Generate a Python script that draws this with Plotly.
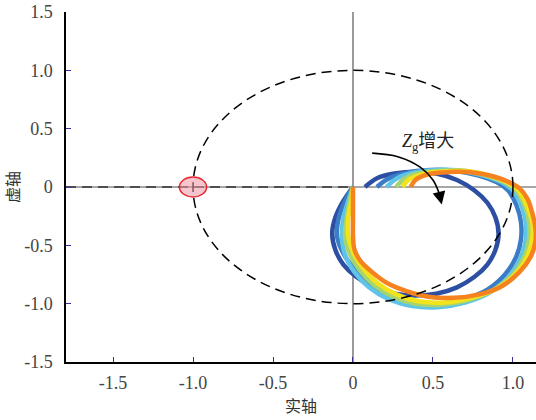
import plotly.graph_objects as go

# ---------------- data ----------------
x_tick_vals = [-1.5, -1.0, -0.5, 0, 0.5, 1.0]
x_tick_text = ["-1.5", "-1.0", "-0.5", "0", "0.5", "1.0"]
y_tick_vals = [-1.5, -1.0, -0.5, 0, 0.5, 1.0, 1.5]
y_tick_text = ["-1.5", "-1.0", "-0.5", "0", "0.5", "1.0", "1.5"]

curve_colors = ["#2d4fa3", "#3b7cc6", "#5ec4e8", "#a6d470", "#f2e41c", "#f5821f"]

c1_x = [0.075, 0.15, 0.26, 0.39, 0.52, 0.65, 0.76, 0.84, 0.89, 0.91, 0.89, 0.84, 0.76, 0.65, 0.52, 0.39, 0.26, 0.13, 0.02, -0.06, -0.11, -0.13, -0.11, -0.06, 0.0]
c1_y = [0.0, 0.075, 0.115, 0.13, 0.115, 0.06, -0.03, -0.135, -0.26, -0.40, -0.54, -0.665, -0.77, -0.86, -0.915, -0.93, -0.915, -0.86, -0.77, -0.665, -0.54, -0.40, -0.26, -0.12, 0.0]

c2_x = [0.15, 0.22, 0.33, 0.48, 0.63, 0.78, 0.90, 0.97, 1.02, 1.05, 1.05, 1.02, 0.95, 0.84, 0.70, 0.55, 0.40, 0.25, 0.12, 0.02, -0.06, -0.10, -0.09, -0.05, 0.0]
c2_y = [0.0, 0.07, 0.12, 0.145, 0.14, 0.10, 0.04, -0.03, -0.15, -0.30, -0.45, -0.60, -0.75, -0.88, -0.96, -1.00, -0.99, -0.94, -0.85, -0.72, -0.57, -0.42, -0.27, -0.12, 0.0]

c3_x = [0.21, 0.27, 0.37, 0.52, 0.67, 0.81, 0.93, 1.00, 1.05, 1.08, 1.08, 1.05, 0.98, 0.86, 0.70, 0.53, 0.37, 0.22, 0.10, 0.01, -0.05, -0.07, -0.06, -0.03, 0.0]
c3_y = [0.0, 0.07, 0.12, 0.145, 0.14, 0.10, 0.04, -0.03, -0.15, -0.30, -0.45, -0.60, -0.76, -0.90, -0.99, -1.03, -1.02, -0.96, -0.86, -0.73, -0.58, -0.42, -0.27, -0.12, 0.0]

c4_x = [0.27, 0.32, 0.42, 0.56, 0.70, 0.83, 0.95, 1.02, 1.07, 1.10, 1.10, 1.07, 1.00, 0.88, 0.72, 0.55, 0.39, 0.25, 0.13, 0.04, -0.02, -0.05, -0.04, -0.02, 0.0]
c4_y = [0.0, 0.07, 0.12, 0.14, 0.14, 0.10, 0.04, -0.03, -0.15, -0.30, -0.45, -0.60, -0.75, -0.88, -0.97, -1.01, -1.00, -0.94, -0.84, -0.71, -0.57, -0.42, -0.27, -0.12, 0.0]

c5_x = [0.31, 0.35, 0.45, 0.59, 0.72, 0.85, 0.96, 1.03, 1.08, 1.12, 1.12, 1.09, 1.02, 0.90, 0.74, 0.57, 0.41, 0.27, 0.15, 0.06, 0.00, -0.03, -0.03, -0.01, 0.0]
c5_y = [0.0, 0.065, 0.115, 0.135, 0.135, 0.10, 0.04, -0.02, -0.14, -0.30, -0.45, -0.59, -0.74, -0.87, -0.95, -0.99, -0.98, -0.92, -0.82, -0.69, -0.56, -0.42, -0.27, -0.12, 0.0]

c6_x = [0.36, 0.39, 0.46, 0.56, 0.66, 0.77, 0.88, 0.97, 1.04, 1.09, 1.12, 1.14, 1.14, 1.11, 1.04, 0.93, 0.79, 0.63, 0.47, 0.33, 0.21, 0.12, 0.05, 0.01, 0.0, 0.0, 0.0, 0.0]
c6_y = [0.0, 0.06, 0.105, 0.125, 0.13, 0.12, 0.09, 0.045, -0.01, -0.10, -0.22, -0.35, -0.47, -0.60, -0.73, -0.85, -0.92, -0.95, -0.94, -0.89, -0.82, -0.73, -0.64, -0.54, -0.42, -0.28, -0.14, 0.0]

curves_x = [c1_x, c2_x, c3_x, c4_x, c5_x, c6_x]
curves_y = [c1_y, c2_y, c3_y, c4_y, c5_y, c6_y]

arrow_x = [0.12, 0.28, 0.42, 0.50, 0.54]
arrow_y = [0.29, 0.26, 0.17, 0.06, -0.06]
arrow_tip = (0.555, -0.15)

unit_radius = 1.0
critical_point = (-1.0, 0.0)
critical_r = (0.085, 0.085)

x_range = [-1.794, 1.144]
y_range = [-1.5, 1.5]

SERIF = "Liberation Serif"
CJK = "Noto Sans CJK SC"

# ---------------- figure ----------------
fig = go.Figure()

fig.add_trace(go.Scatter(x=[x_range[0], x_range[1]], y=[0, 0], mode="lines",
                         line=dict(color="#8a8a8a", width=1.5), hoverinfo="skip", showlegend=False))
fig.add_trace(go.Scatter(x=[x_range[0], 0], y=[0, 0], mode="lines",
                         line=dict(color="#333333", width=1.5, dash="10px,6px"), hoverinfo="skip", showlegend=False))
fig.add_trace(go.Scatter(x=[0, 0], y=[y_range[0], y_range[1]], mode="lines",
                         line=dict(color="#7a7a7a", width=1.5), hoverinfo="skip", showlegend=False))

for cx, cy, col in zip(curves_x, curves_y, curve_colors):
    fig.add_trace(go.Scatter(x=cx, y=cy, mode="lines",
                             line=dict(color=col, width=4.5, shape="spline", smoothing=1.0),
                             showlegend=False))

fig.add_trace(go.Scatter(x=arrow_x, y=arrow_y, mode="lines",
                         line=dict(color="black", width=1.6, shape="spline"), showlegend=False))

fig.add_annotation(x=arrow_tip[0], y=arrow_tip[1], ax=arrow_x[-1], ay=arrow_y[-1],
                   xref="x", yref="y", axref="x", ayref="y", text="",
                   showarrow=True, arrowhead=2, arrowsize=1.6, arrowwidth=1.6, arrowcolor="black")

fig.add_annotation(x=0.47, y=0.385, xref="x", yref="y", showarrow=False,
                   text="<i>Z</i><sub>g</sub>增大",
                   font=dict(family="Liberation Serif, Noto Sans CJK SC", size=18, color="#222222"))

fig.add_shape(type="circle", xref="x", yref="y",
              x0=-unit_radius, x1=unit_radius, y0=-unit_radius, y1=unit_radius,
              line=dict(color="black", width=1.5, dash="10px,6px"))
fig.add_shape(type="circle", xref="x", yref="y",
              x0=critical_point[0] - critical_r[0], x1=critical_point[0] + critical_r[0],
              y0=critical_point[1] - critical_r[1], y1=critical_point[1] + critical_r[1],
              line=dict(color="#e8262d", width=1.5), fillcolor="rgba(240,150,165,0.55)")

tick_font = dict(family=SERIF, size=18, color="#444444")
fig.update_xaxes(range=x_range, tickvals=x_tick_vals, ticktext=x_tick_text,
                 showgrid=False, zeroline=False, showline=True, linecolor="black", linewidth=1.5,
                 ticks="inside", ticklen=5, tickcolor="#333399", tickwidth=1, tickfont=tick_font,
                 ticklabelstandoff=4,
                 title=dict(text="实轴", font=dict(family=CJK, size=16, color="#333333"), standoff=8))
fig.update_yaxes(range=y_range, tickvals=y_tick_vals, ticktext=y_tick_text,
                 showgrid=False, zeroline=False, showline=True, linecolor="black", linewidth=1.5,
                 ticks="inside", ticklen=5, tickcolor="#333399", tickwidth=1, tickfont=tick_font,
                 ticklabelstandoff=8,
                 title=dict(text="虚轴", font=dict(family=CJK, size=16, color="#333333"), standoff=4))

fig.update_layout(width=536, height=420, margin=dict(l=66, r=0, t=12, b=58),
                  plot_bgcolor="white", paper_bgcolor="white", showlegend=False)

fig.write_html("out.html")
